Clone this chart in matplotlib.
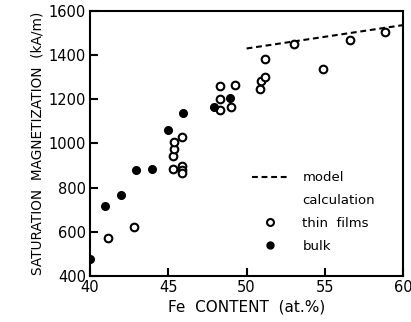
import matplotlib
matplotlib.use("Agg")
import matplotlib.pyplot as plt
from matplotlib.lines import Line2D

# bulk samples (filled)
bulk_fe = [40.0, 40.96, 41.97, 42.95, 43.97, 45.0, 45.96, 47.95, 48.97]
bulk_ms = [479, 717, 765, 879, 886, 1059, 1136, 1164, 1206]

# thin films (open)
film_fe = [41.13, 42.78, 45.28, 45.34, 45.34, 45.3, 45.88, 45.88, 45.88, 45.88,
           48.27, 48.27, 48.27, 49.23, 49.02, 50.88, 50.94, 51.2, 51.2,
           53.01, 54.89, 56.6, 58.85]
film_ms = [573, 621, 944, 973, 1005, 886, 1027, 897, 882, 868,
           1258, 1203, 1152, 1264, 1167, 1248, 1285, 1303, 1383,
           1450, 1335, 1467, 1505]

# model calculation
model_fe = [50, 60]
model_ms = [1430, 1536]

fig = plt.figure(figsize=(4.11, 3.22), dpi=100)
ax = fig.add_axes([0.219, 0.143, 0.762, 0.823])

dash = (0, (2.8, 1.8))
ax.plot(model_fe, model_ms, color="black", lw=1.5, linestyle=dash)
ax.plot(film_fe, film_ms, "o", ms=5.5, mfc="white", mec="black", mew=1.5)
ax.plot(bulk_fe, bulk_ms, "o", ms=5.5, mfc="black", mec="black", mew=1.0)

ax.set_xlim(40, 60)
ax.set_ylim(400, 1600)
ax.set_xticks([40, 45, 50, 55, 60])
ax.set_yticks([400, 600, 800, 1000, 1200, 1400, 1600])
ax.tick_params(direction="in", length=6, width=1.5, labelsize=10.5, pad=3)
for s in ax.spines.values():
    s.set_linewidth(1.5)

ax.set_xlabel("Fe  CONTENT  (at.%)", fontsize=11, labelpad=3)
ax.set_ylabel("SATURATION  MAGNETIZATION  (kA/m)", fontsize=9.8, labelpad=3)

handles = [
    Line2D([], [], color="black", lw=1.5, linestyle=dash),
    Line2D([], [], linestyle="none"),
    Line2D([], [], marker="o", linestyle="none", ms=5, mfc="white", mec="black", mew=1.5),
    Line2D([], [], marker="o", linestyle="none", ms=5, mfc="black", mec="black"),
]
labels = ["model", "calculation", "thin  films", "bulk"]
ax.legend(handles, labels, loc="upper left", bbox_to_anchor=(0.48, 0.44),
          frameon=False, fontsize=9.5, handlelength=2.7, handletextpad=1.1,
          labelspacing=0.75, borderpad=0.4)

fig.savefig("out.png", dpi=100)
